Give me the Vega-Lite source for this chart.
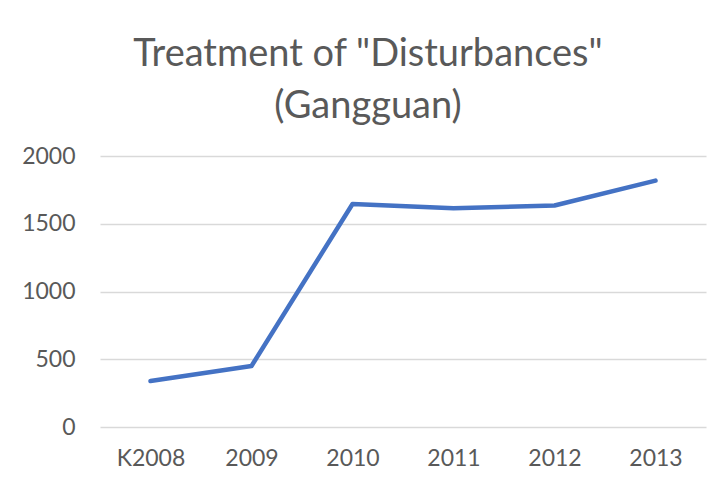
{
  "$schema": "https://vega.github.io/schema/vega-lite/v6.json",
  "width": 606,
  "height": 271,
  "autosize": {"type": "none"},
  "padding": {"left": 100, "top": 156, "right": 15, "bottom": 59},
  "background": "white",
  "title": {
    "text": ["Treatment of \"Disturbances\"", "(Gangguan)"],
    "font": "Lato",
    "fontSize": 38,
    "fontWeight": "normal",
    "color": "#595959",
    "anchor": "middle",
    "dx": -35,
    "lineHeight": 52,
    "offset": 19
  },
  "data": {
    "values": [
      {"year": "K2008", "value": 339},
      {"year": "2009", "value": 450},
      {"year": "2010", "value": 1646},
      {"year": "2011", "value": 1614},
      {"year": "2012", "value": 1635},
      {"year": "2013", "value": 1818}
    ]
  },
  "mark": {"type": "line", "color": "#4472C4", "strokeWidth": 4.5, "strokeCap": "round", "strokeJoin": "round"},
  "encoding": {
    "x": {
      "field": "year",
      "type": "ordinal",
      "sort": null,
      "scale": {"type": "point", "padding": 0.5},
      "axis": {
        "title": null,
        "labelAngle": 0,
        "ticks": false,
        "domain": false,
        "grid": false,
        "labelFont": "Lato",
        "labelFontSize": 23,
        "labelColor": "#595959",
        "labelPadding": 20
      }
    },
    "y": {
      "field": "value",
      "type": "quantitative",
      "scale": {"domain": [0, 2000], "nice": false},
      "axis": {
        "title": null,
        "values": [0, 500, 1000, 1500, 2000],
        "format": "d",
        "ticks": false,
        "domain": false,
        "gridColor": "#d9d9d9",
        "gridWidth": 1.5,
        "labelFont": "Lato",
        "labelFontSize": 23,
        "labelColor": "#595959",
        "labelPadding": 25
      }
    }
  },
  "config": {"view": {"stroke": null}}
}
